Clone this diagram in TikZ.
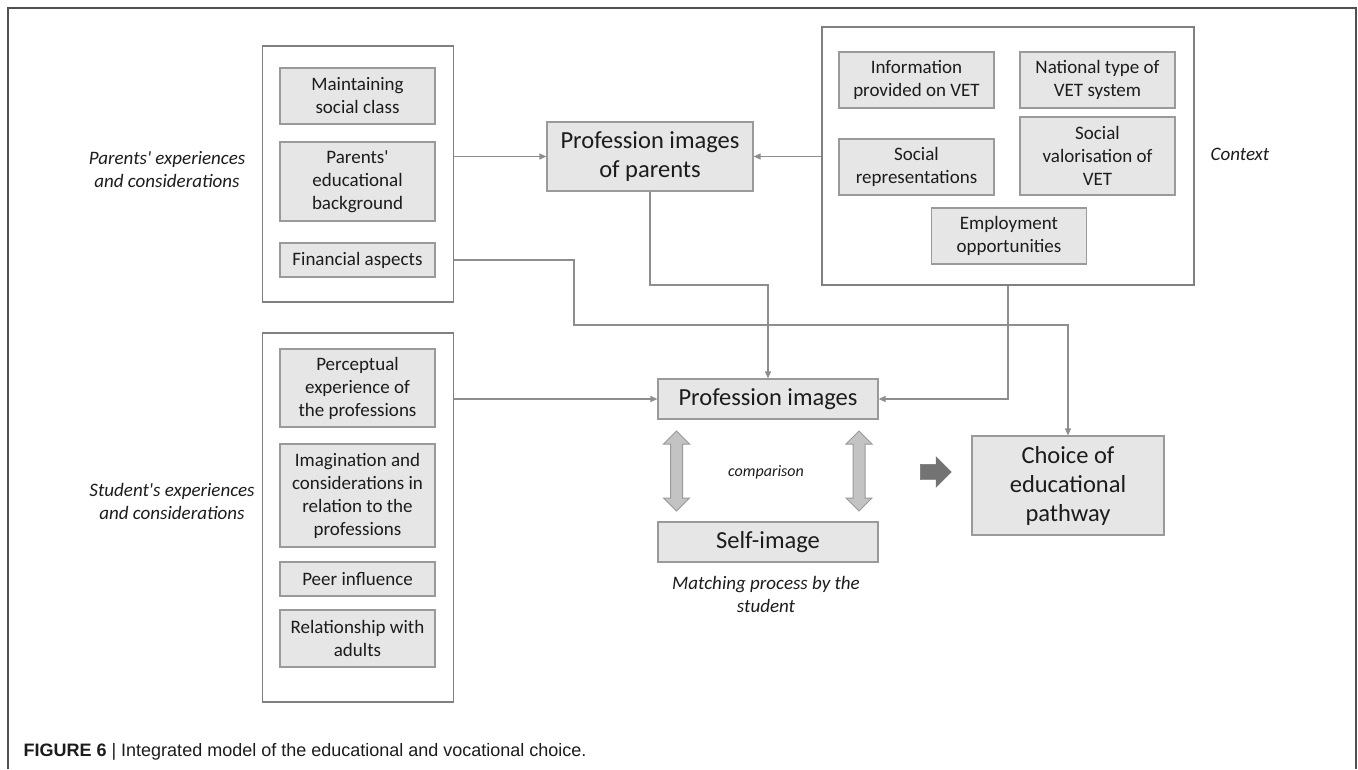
\documentclass[tikz,border=0pt]{standalone}
\usepackage{fontspec}
\setmainfont{Carlito}[Ligatures=TeXOff]
\newfontfamily\capfont{Liberation Sans}
\usetikzlibrary{arrows.meta,shapes.arrows}

\definecolor{boxfill}{HTML}{E6E6E6}
\definecolor{boxline}{HTML}{9A9A9A}
\definecolor{grpline}{HTML}{808080}
\definecolor{linegray}{HTML}{8E8E8E}
\definecolor{framegray}{HTML}{505050}
\definecolor{txt}{HTML}{1C1C1C}

\tikzset{
  item/.style={rectangle, draw=boxline, line width=1.2pt, fill=boxfill, align=center,
    inner sep=0pt, text=txt, minimum width=155pt,
    font=\fontsize{19}{23}\selectfont},
  bigitem/.style={item, font=\fontsize{24.5}{29}\selectfont},
  group/.style={rectangle, draw=grpline, line width=1.2pt, inner sep=0pt},
  sidelabel/.style={align=center, text=txt, font=\fontsize{19}{23}\selectfont\itshape},
  conn/.style={draw=linegray, line width=1.2pt, -{Triangle[length=7pt,width=6pt]}},
  dblarrow/.style={double arrow, draw=boxline, fill=boxfill!85!black, line width=1pt,
    inner sep=5.5pt, minimum width=25pt, double arrow head extend=7pt,
    minimum height=80pt, rotate=90},
}

\begin{document}
\begin{tikzpicture}[x=1pt,y=-1pt]
\useasboundingbox (0,0) rectangle (1358,769);
\draw[framegray, line width=1.5pt] (8,769) -- (8,8) -- (1356,8) -- (1356,769);

% Groups
\node[group, minimum width=191pt, minimum height=256pt] (pgroup) at (358,174) {};
\node[group, minimum width=191pt, minimum height=369pt] (sgroup) at (358,517.5) {};
\node[group, minimum width=372pt, minimum height=258pt] (ctx) at (1008,156) {};

% Parents
\node[item, minimum height=56pt] (maint) at (357.5,96) {Maintaining\\social class};
\node[item, minimum height=79pt] (pedu) at (357.5,181.5) {Parents'\\educational\\background};
\node[item, minimum height=34pt] (fin) at (357.5,260) {Financial aspects};
\node[sidelabel] (plabel) at (167,170) {Parents' experiences\\and considerations};

% Student
\node[item, minimum height=78pt] (percep) at (357.5,388) {Perceptual\\experience of\\the professions};
\node[item, minimum height=103pt] (imag) at (357.5,495.5) {Imagination and\\considerations in\\relation to the\\professions};
\node[item, minimum height=34pt] (peer) at (357.5,579) {Peer influence};
\node[item, minimum height=57pt] (rel) at (357.5,638.5) {Relationship with\\adults};
\node[sidelabel] (slabel) at (172,501.5) {Student's experiences\\and considerations};

% Context
\node[item, minimum height=56pt] (info) at (916.5,80) {Information\\provided on VET};
\node[item, minimum height=56pt] (natl) at (1097.5,80) {National type of\\VET system};
\node[item, minimum height=56pt] (socrep) at (916.5,167) {Social\\representations};
\node[item, minimum height=78pt] (socval) at (1097.5,156) {Social\\valorisation of\\VET};
\node[item, minimum height=56pt] (employ) at (1009,236) {Employment\\opportunities};
\node[sidelabel] (clabel) at (1240,154) {Context};

% Images and choice
\node[bigitem, minimum width=206pt, minimum height=69pt] (ppar) at (650,156.5) {Profession images\\of parents};
\node[bigitem, minimum width=220pt, minimum height=40pt] (pimg) at (768,399) {Profession images};
\node[bigitem, minimum width=220pt, minimum height=40pt] (self) at (768,542) {Self-image};
\node[bigitem, minimum width=192pt, minimum height=99pt] (choice) at (1068,485.5) {Choice of\\educational\\pathway};

\node[dblarrow] (cmpl) at (676.5,471) {};
\node[dblarrow] (cmpr) at (859,471) {};
\node[sidelabel, font=\fontsize{16}{19}\selectfont\itshape] (cmp) at (766,472) {comparison};
\node[sidelabel] (match) at (766,594.5) {Matching process by the\\student};
\node[single arrow, fill=black!55, draw=black!55, inner sep=7.5pt, minimum width=30pt,
  single arrow head extend=7.5pt, minimum height=31pt] (go) at (932,472) {};

% Connectors
\coordinate (finbend) at (574,325);
\coordinate (parbend) at (650,285);
\draw[conn] (ppar.west -| pgroup.east) -- (ppar.west);
\draw[conn] (ppar.east -| ctx.west) -- (ppar.east);
\draw[conn] (fin.east -| pgroup.east) -| (finbend) -| (choice.north);
\draw[conn] (ppar.south) -- (parbend) -| (pimg.north);
\draw[conn] (ctx.south) |- (pimg.east);
\draw[conn] (pimg.west -| sgroup.east) -- (pimg.west);

\node[anchor=west, text=txt, font=\capfont\fontsize{18}{21}\selectfont] (cap) at (20,752)
  {\textbf{FIGURE 6} | Integrated model of the educational and vocational choice.};
\end{tikzpicture}
\end{document}
